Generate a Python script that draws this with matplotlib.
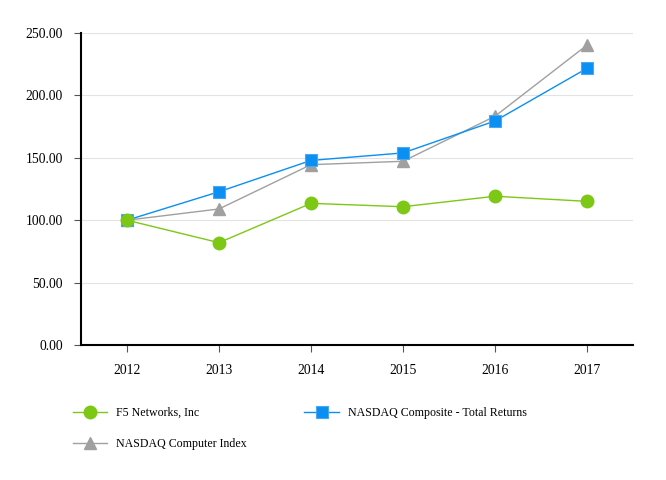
import matplotlib
matplotlib.use("Agg")
import matplotlib.pyplot as plt
from matplotlib.ticker import FormatStrFormatter

years = [2012, 2013, 2014, 2015, 2016, 2017]
f5 = [100.0, 82.0, 113.5, 110.8, 119.2, 115.1]
nasdaq_comp = [100.0, 122.8, 147.9, 153.9, 179.5, 221.7]
nasdaq_computer = [100.0, 109.0, 144.5, 147.2, 183.3, 240.3]
labels = ["F5 Networks, Inc", "NASDAQ Composite - Total Returns", "NASDAQ Computer Index"]

plt.rcParams['font.family'] = ['Liberation Serif', 'DejaVu Serif']

fig = plt.figure(figsize=(6.66, 4.8), dpi=100)
ax = fig.add_axes([81/666, 1-345/480, (633-81)/666, (345-33)/480])

green = '#7cc815'
blue = '#0a8ff2'
gray = '#a0a0a0'

l3, = ax.plot(years, nasdaq_computer, color=gray, lw=1.0, marker='^', ms=9,
              markerfacecolor=gray, markeredgecolor=gray, zorder=3, clip_on=False)
l2, = ax.plot(years, nasdaq_comp, color=blue, lw=1.0, marker='s', ms=8.5,
              markerfacecolor=blue, markeredgecolor='#4aa8f0', markeredgewidth=0.8, zorder=4, clip_on=False)
l1, = ax.plot(years, f5, color=green, lw=1.0, marker='o', ms=9,
              markerfacecolor=green, markeredgecolor=green, zorder=5, clip_on=False)

ax.set_xlim(2011.5, 2017.5)
ax.set_ylim(0, 250)
ax.set_xticks(years)
ax.set_xticklabels([str(y) for y in years])
ax.set_yticks([0, 50, 100, 150, 200, 250])
ax.yaxis.set_major_formatter(FormatStrFormatter('%.2f'))
ax.grid(axis='y', color='#e3e3e3', lw=0.8, zorder=0)
ax.set_axisbelow(True)
for s in ['top', 'right']:
    ax.spines[s].set_visible(False)
for s in ['left', 'bottom']:
    ax.spines[s].set_color('black')
    ax.spines[s].set_linewidth(1.5)
ax.tick_params(axis='both', colors='black', labelsize=9.8, length=5, width=0.8, color='#555555')
ax.tick_params(axis='x', pad=9)
ax.tick_params(axis='y', pad=8)

leg = fig.legend([l1, l3, l2], [labels[0], labels[2], labels[1]], ncol=2, loc='upper left',
                 bbox_to_anchor=(62/666, 1-396/480), frameon=False, fontsize=8.6,
                 handlelength=2.9, handletextpad=0.75, columnspacing=4.8,
                 labelspacing=1.65)

fig.savefig('out.png', dpi=100)
